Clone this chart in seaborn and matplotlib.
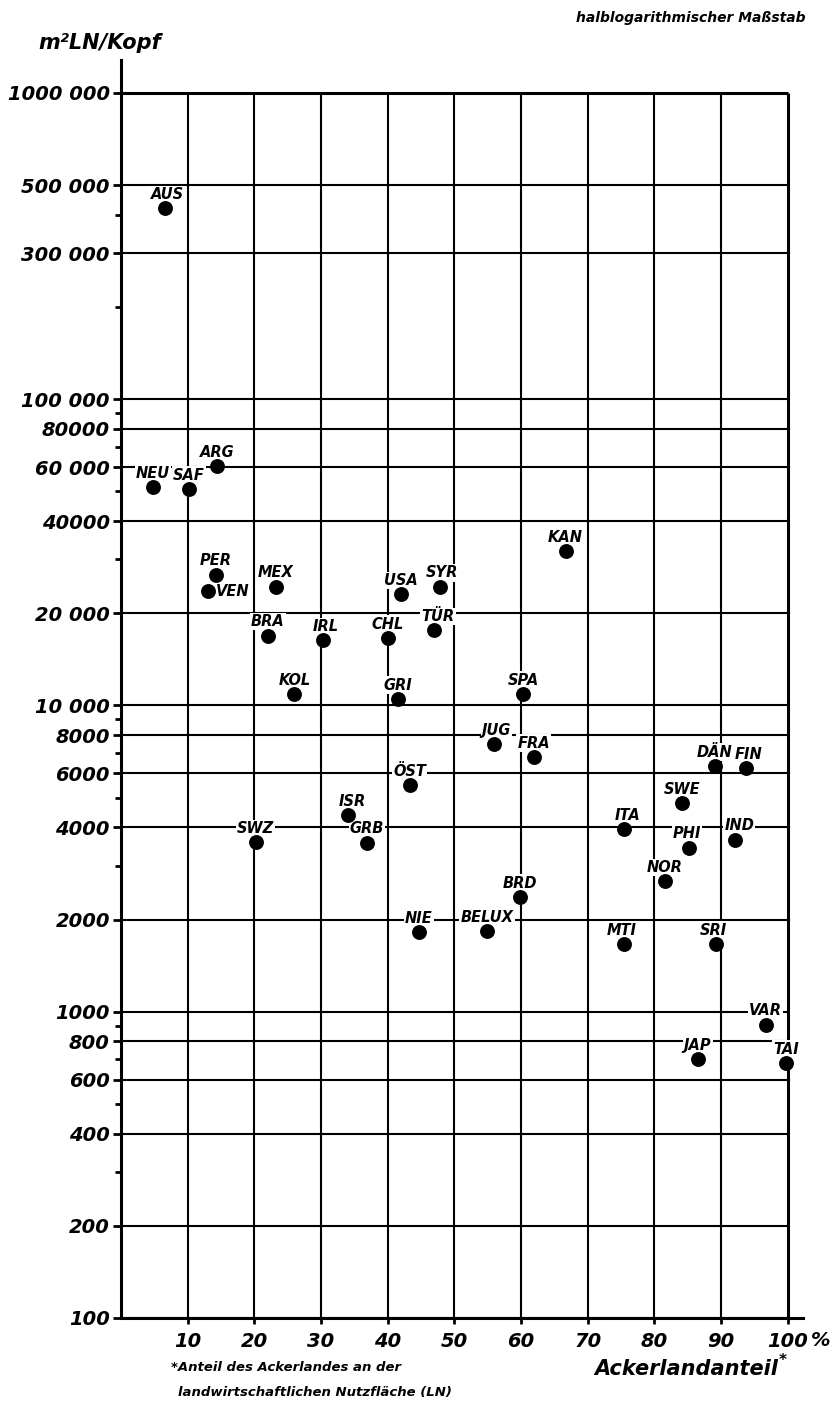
import matplotlib
matplotlib.use("Agg")
import matplotlib.pyplot as plt
import seaborn as sns
import pandas as pd

# --- data -----------------------------------------------------------------
laender = ["AUS", "NEU", "SAF", "ARG", "PER", "VEN", "MEX", "BRA", "IRL", "CHL",
           "KOL", "GRI", "USA", "SYR", "TÜR", "KAN", "SPA", "JUG", "FRA", "ÖST",
           "ISR", "GRB", "SWZ", "BRD", "NIE", "BELUX", "ITA", "MTI", "SWE", "PHI",
           "NOR", "DÄN", "FIN", "IND", "SRI", "VAR", "JAP", "TAI"]
ackerlandanteil = [6.6, 4.8, 10.2, 14.4, 14.2, 13.0, 23.2, 22.0, 30.3, 40.0,
                   26.0, 41.6, 42.0, 47.8, 46.9, 66.7, 60.3, 55.9, 61.9, 43.3,
                   34.0, 36.9, 20.2, 59.8, 44.7, 54.9, 75.4, 75.4, 84.1, 85.2,
                   81.6, 89.1, 93.8, 92.1, 89.2, 96.7, 86.5, 99.8]
ln_je_kopf = [420000, 51600, 50900, 60500, 26700, 23600, 24400, 16900, 16300, 16600,
              10900, 10500, 23100, 24400, 17600, 31900, 10900, 7480, 6790, 5500,
              4390, 3560, 3580, 2370, 1820, 1830, 3950, 1665, 4800, 3430,
              2670, 6345, 6250, 3640, 1665, 906, 701, 680]

y_gitter = [1000000, 500000, 300000, 100000, 80000, 60000, 40000, 20000, 10000,
            8000, 6000, 4000, 2000, 1000, 800, 600, 400, 200, 100]
y_beschriftung = ["1000 000", "500 000", "300 000", "100 000", "80000", "60 000",
                  "40000", "20 000", "10 000", "8000", "6000", "4000", "2000",
                  "1000", "800", "600", "400", "200", "100"]
y_zwischen = [400000, 200000, 90000, 70000, 50000, 30000, 9000, 7000, 5000, 3000,
              900, 700, 500, 300]
x_gitter = [10, 20, 30, 40, 50, 60, 70, 80, 90, 100]

df = pd.DataFrame({"land": laender, "x": ackerlandanteil, "y": ln_je_kopf})

# --- style ----------------------------------------------------------------
sns.set_theme(style="white")
plt.rcParams["font.family"] = ["DejaVu Sans"]
for key in ["text.color", "axes.labelcolor", "xtick.color", "ytick.color",
            "xtick.labelcolor", "ytick.labelcolor"]:
    plt.rcParams[key] = "black"
FONT = dict(fontweight="bold", fontstyle="italic", color="black")

fig = plt.figure(figsize=(8.4, 14.03), dpi=100)
ax = fig.add_axes([0.144, 0.0606, 0.812, 0.8966])
ax.set_yscale("log")
ax.set_xlim(0, 102.3)
ax.set_ylim(100, 1.28e6)

# grid drawn only inside the 0-100 % / 100-1 000 000 frame
for v in y_gitter:
    lw = 2.2 if v == 1000000 else 1.5
    ax.hlines(v, 0, 100, color="black", lw=lw, zorder=1)
for v in x_gitter:
    lw = 2.2 if v == 100 else 1.5
    ax.vlines(v, 100, 1000000, color="black", lw=lw, zorder=1)

sns.scatterplot(data=df, x="x", y="y", color="black", s=115, linewidth=0,
                zorder=4, ax=ax, legend=False)

# point labels: above each dot, a few nudged sideways
nudge = {"IRL": 2, "SYR": 2, "TÜR": 3, "ISR": 3.5, "ITA": 3, "IND": 3,
         "SRI": -2, "MTI": -1.5, "PHI": -1.5, "AUS": 1.5, "FIN": 1.5, "JUG": 2}
for land, x, y in zip(laender, ackerlandanteil, ln_je_kopf):
    if land == "VEN":
        ax.annotate(land, (x, y), xytext=(6, 0), textcoords="offset points",
                    ha="left", va="center", fontsize=10.5, zorder=3,
                    bbox=dict(facecolor="white", edgecolor="none", pad=0.8), **FONT)
    else:
        ax.annotate(land, (x, y), xytext=(nudge.get(land, 0), 10),
                    textcoords="offset points", ha="center", va="center",
                    fontsize=10.5, zorder=3,
                    bbox=dict(facecolor="white", edgecolor="none", pad=0.8), **FONT)

# axes
for s in ["top", "right"]:
    ax.spines[s].set_visible(False)
for s in ["left", "bottom"]:
    ax.spines[s].set_linewidth(2.2)
    ax.spines[s].set_color("black")

ax.set_yticks(y_gitter)
ax.set_yticklabels(y_beschriftung)
ax.set_yticks(y_zwischen, minor=True)
ax.yaxis.set_minor_formatter(matplotlib.ticker.NullFormatter())
ax.set_xticks(x_gitter)
ax.set_xticklabels([str(v) for v in x_gitter])
ax.tick_params(axis="y", which="major", direction="out", length=6, width=2,
               pad=2, labelsize=14, left=True, colors="black")
ax.tick_params(axis="y", which="minor", direction="out", length=4, width=2,
               left=True, colors="black")
ax.tick_params(axis="x", which="major", direction="out", length=4, width=2,
               pad=6, labelsize=14, bottom=True, colors="black")
for lab in ax.get_xticklabels() + ax.get_yticklabels():
    lab.set_fontweight("bold")
    lab.set_fontstyle("italic")
    lab.set_color("black")
ax.set_xlabel("")
ax.set_ylabel("")

ax.annotate("%", xy=(100, 0), xycoords=("data", "axes fraction"),
            xytext=(17, -9.5), textcoords="offset points", ha="left", va="top",
            fontsize=14, **FONT)

# captions
fig.text(0.119, 0.969, "m²LN/Kopf", ha="center", va="center", fontsize=15, **FONT)
fig.text(0.822, 0.987, "halblogarithmischer Maßstab", ha="center", va="center",
         fontsize=10, **FONT)
fig.text(0.817, 0.0245, "Ackerlandanteil", ha="center", va="center",
         fontsize=15, **FONT)
fig.text(0.932, 0.0300, "*", ha="center", va="center", fontsize=11, **FONT)
fig.text(0.203, 0.0255, "*Anteil des Ackerlandes an der", ha="left",
         va="center", fontsize=9.5, **FONT)
fig.text(0.212, 0.0075, "landwirtschaftlichen Nutzfläche (LN)", ha="left",
         va="center", fontsize=9.5, **FONT)

fig.savefig("out.png", dpi=100, facecolor="white")
